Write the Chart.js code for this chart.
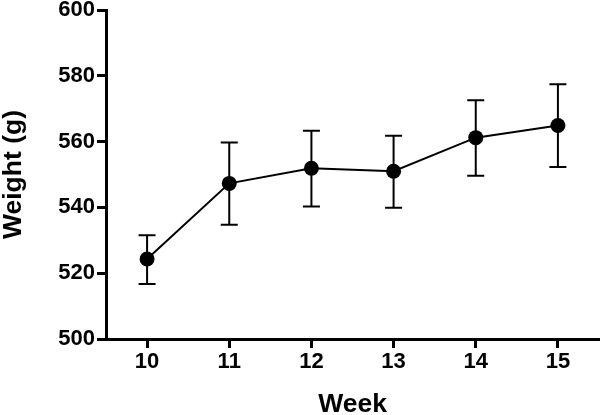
<!DOCTYPE html>
<html>
<head>
<meta charset="utf-8">
<script src="https://cdn.jsdelivr.net/npm/chart.js@4"></script>
<style>
  html, body { margin: 0; padding: 0; background: #fff; }
  #wrap { width: 600px; height: 415px; }
</style>
</head>
<body>
<div id="wrap"><canvas id="weightChart"></canvas></div>
<script>
const weeks = [10, 11, 12, 13, 14, 15];
const meanWeight = [524.3, 547.3, 551.9, 551.0, 561.2, 564.9];
const errUpper = [531.5, 559.7, 563.3, 561.8, 572.6, 577.4];
const errLower = [516.7, 534.7, 540.3, 539.9, 549.6, 552.3];
const yTicks = [500, 520, 540, 560, 580, 600];

const tickFont = { family: "'Liberation Sans', Arial, sans-serif", size: 22, weight: 'bold' };
const titleFont = { family: "'Liberation Sans', Arial, sans-serif", size: 26.5, weight: 'bold' };

// draws the SEM whiskers from errUpper / errLower
const errorBars = {
    id: 'errorBars',
    afterDatasetsDraw(chart) {
        const ctx = chart.ctx;
        const x = chart.scales.x;
        const y = chart.scales.y;
        ctx.save();
        ctx.strokeStyle = '#000';
        ctx.lineWidth = 2;
        weeks.forEach((w, i) => {
            const px = x.getPixelForValue(w);
            const top = y.getPixelForValue(errUpper[i]);
            const bot = y.getPixelForValue(errLower[i]);
            ctx.beginPath();
            ctx.moveTo(px, top); ctx.lineTo(px, bot);
            ctx.moveTo(px - 8.5, top); ctx.lineTo(px + 8.5, top);
            ctx.moveTo(px - 8.5, bot); ctx.lineTo(px + 8.5, bot);
            ctx.stroke();
        });
        ctx.restore();
    }
};

const ctx = document.getElementById('weightChart').getContext('2d');

const chart = new Chart(ctx, {
    type: 'line',
    data: {
        datasets: [{
            label: 'Weight',
            data: weeks.map((w, i) => ({ x: w, y: meanWeight[i] })),
            borderColor: '#000',
            borderWidth: 2,
            backgroundColor: '#000',
            pointBackgroundColor: '#000',
            pointBorderColor: '#000',
            pointRadius: 7.5,
            pointBorderWidth: 0,
            tension: 0
        }]
    },
    options: {
        responsive: true,
        maintainAspectRatio: false,
        animation: false,
        layout: { autoPadding: false, padding: { top: 10, right: 1, left: 0, bottom: 0 } },
        plugins: {
            legend: { display: false },
            tooltip: { enabled: false }
        },
        scales: {
            x: {
                type: 'linear',
                min: 9.5,
                max: 15.5,
                afterBuildTicks: s => { s.ticks = weeks.map(v => ({ value: v })); },
                afterFit: s => { s.height = 76; s.paddingLeft = 0; s.paddingRight = 0; },
                grid: {
                    display: true,
                    drawOnChartArea: false,
                    tickLength: 9,
                    tickWidth: 3,
                    tickColor: '#000'
                },
                border: { display: true, width: 3, color: '#000' },
                ticks: { color: '#000', font: tickFont, padding: 1, maxRotation: 0 },
                title: { display: true, text: 'Week', color: '#000', font: titleFont, padding: { top: 0, bottom: -6 } }
            },
            y: {
                min: 500,
                max: 600,
                afterBuildTicks: s => { s.ticks = yTicks.map(v => ({ value: v })); },
                afterFit: s => { s.width = 106; s.paddingTop = 0; s.paddingBottom = 0; },
                grid: {
                    display: true,
                    drawOnChartArea: false,
                    tickLength: 9,
                    tickWidth: 3,
                    tickColor: '#000'
                },
                border: { display: true, width: 3, color: '#000' },
                ticks: { color: '#000', font: tickFont, padding: 2 },
                title: { display: true, text: 'Weight (g)', color: '#000', font: titleFont, padding: { top: -2, bottom: 0 } }
            }
        }
    },
    plugins: [errorBars]
});
</script>
</body>
</html>
